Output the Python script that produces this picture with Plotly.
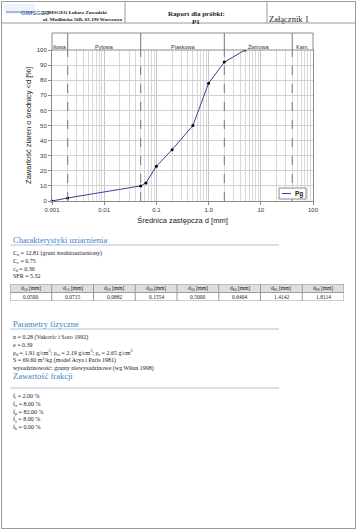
import numpy as np
import plotly.graph_objects as go

W, H = 358, 530

# ---------------- data ----------------
diam_mm = [0.001, 0.002, 0.05, 0.063, 0.1, 0.2, 0.5, 1.0, 2.0, 5.0]
passing_pct = [0, 2, 10, 12, 23, 34, 50, 78, 92, 100]
series_name = "Pg"

class_bounds = [0.001, 0.002, 0.05, 2.0, 40.0, 100.0]
class_names = ["Iłowa", "Pyłowa", "Piaskowa", "Żwirowa", "Kam."]

x_tickvals = [0.001, 0.01, 0.1, 1, 10, 100]
x_ticktext = ["0.001", "0.01", "0.1", "1.0", "10", "100"]
y_tickvals = list(range(0, 101, 10))

char_lines = ["C<sub>u</sub> = 12.81 (grunt średniouziarniony)",
              "C<sub>c</sub> = 0.75",
              "c<sub>d</sub> = 0.36",
              "SFR = 5.32"]
table_headers = ["d<sub>10</sub> [mm]", "d<sub>15</sub> [mm]", "d<sub>20</sub> [mm]", "d<sub>30</sub> [mm]",
                 "d<sub>50</sub> [mm]", "d<sub>60</sub> [mm]", "d<sub>85</sub> [mm]", "d<sub>90</sub> [mm]"]
table_values = ["0.0500", "0.0715", "0.0882", "0.1554", "0.5000", "0.6404", "1.4142", "1.8114"]
phys_lines = ["n = 0.28 (Vukovic i Soro 1992)",
              "e = 0.39",
              "ρ<sub>d</sub> = 1.91 g/cm<sup>3</sup>; ρ<sub>sr</sub> = 2.19 g/cm<sup>3</sup>; ρ<sub>s</sub> = 2.65 g/cm<sup>3</sup>",
              "S = 69.60 m<sup>2</sup>/kg (model Arya i Paris 1981)",
              "wysadzinowość: grunty niewysadzinowe (wg Wiłun 1998)"]
frac_lines = ["f<sub>i</sub> = 2.00 %", "f<sub>π</sub> = 8.00 %", "f<sub>p</sub> = 82.00 %",
              "f<sub>ż</sub> = 8.00 %", "f<sub>k</sub> = 0.00 %"]

# ---------------- helpers (pixel -> paper) ----------------
def fx(px):
    return px / W

def fy(py):
    return 1 - py / H

SERIF = "Liberation Serif"
SANS = "Liberation Sans"
BORDER = "#8c8c8c"
HEAD_BLUE = "#4282c2"
RULE_BLUE = "#a9c3dc"
TEXT = "#222222"

PX_L, PX_R = 52, 313
PY_TOP, PY_BOT = 50, 201
BAND_TOP = 33

fig = go.Figure()
fig.add_trace(go.Scatter(
    x=diam_mm, y=passing_pct, name=series_name, mode="lines+markers",
    line=dict(color="#3d3d9e", width=1),
    marker=dict(color="black", size=3),
    showlegend=False, cliponaxis=False))

minor_vals = [m * 10.0 ** e for e in range(-3, 2) for m in range(2, 10)]

xaxis = dict(
    type="log", range=[-3, 2], domain=[fx(PX_L), fx(PX_R)], automargin=False,
    tickvals=x_tickvals, ticktext=x_ticktext,
    showgrid=True, gridcolor="#c8c8c8", gridwidth=1,
    minor=dict(tickvals=minor_vals, showgrid=True, gridcolor="#d9d9d9", gridwidth=1, ticks=""),
    ticks="outside", ticklen=3, tickcolor=BORDER,
    showline=True, linecolor=BORDER, mirror=True, zeroline=False, fixedrange=True,
    tickfont=dict(family=SANS, size=6, color="#333"),
    title=dict(text="Średnica zastępcza d [mm]", font=dict(family=SANS, size=7.5, color=TEXT), standoff=5),
)
yaxis = dict(
    range=[0, 100], domain=[fy(PY_BOT), fy(PY_TOP)], automargin=False,
    tickvals=y_tickvals, showgrid=True, gridcolor="#d0d0d0", gridwidth=1,
    ticks="outside", ticklen=3, tickcolor=BORDER,
    showline=True, linecolor=BORDER, mirror=True, zeroline=False, fixedrange=True,
    tickfont=dict(family=SANS, size=6, color="#333"),
    title=dict(text="Zawartość ziaren o średnicy &lt;d [%]", font=dict(family=SANS, size=7.5, color=TEXT), standoff=4),
)

shapes = []
ann = []

# page border
shapes.append(dict(type="rect", xref="paper", yref="paper", x0=fx(1.5), x1=fx(355.5), y0=fy(528.5), y1=fy(1.5),
                   line=dict(color="#999999", width=1)))
# header
shapes.append(dict(type="line", xref="paper", yref="paper", x0=fx(1.5), x1=fx(355.5), y0=fy(23), y1=fy(23),
                   line=dict(color="#999999", width=1)))
for xx in (125, 267):
    shapes.append(dict(type="line", xref="paper", yref="paper", x0=fx(xx), x1=fx(xx), y0=fy(1.5), y1=fy(23),
                       line=dict(color="#999999", width=1)))

# logo
shapes.append(dict(type="rect", xref="paper", yref="paper", x0=fx(4), x1=fx(35), y0=fy(14), y1=fy(4),
                   line=dict(width=0), fillcolor="#eef3fb"))
shapes.append(dict(type="line", xref="paper", yref="paper", x0=fx(6), x1=fx(33), y0=fy(12), y1=fy(12),
                   line=dict(color="#5a7fc0", width=1)))
ann.append(dict(text="GIMSGEO", x=fx(19), y=fy(7.5), xref="paper", yref="paper", showarrow=False,
                font=dict(family=SANS, size=6, color="#1f3f8f")))
ann.append(dict(text="<b>GIMSGEO Łukasz Zawadzki</b>", x=fx(41), y=fy(7.5), xref="paper", yref="paper",
                showarrow=False, xanchor="left", font=dict(family=SERIF, size=5, color=TEXT)))
ann.append(dict(text="<b>ul. Modlińska 56B, 03-190 Warszawa</b>", x=fx(41), y=fy(14.5), xref="paper", yref="paper",
                showarrow=False, xanchor="left", font=dict(family=SERIF, size=5, color=TEXT)))
ann.append(dict(text="<b>Raport dla próbki:</b>", x=fx(196), y=fy(7.5), xref="paper", yref="paper",
                showarrow=False, font=dict(family=SERIF, size=7, color=TEXT)))
ann.append(dict(text="<b>P1</b>", x=fx(196), y=fy(15.5), xref="paper", yref="paper",
                showarrow=False, font=dict(family=SERIF, size=7, color=TEXT)))
ann.append(dict(text="Załącznik 1", x=fx(311), y=fy(12), xref="paper", yref="paper",
                showarrow=False, font=dict(family=SERIF, size=8.5, color=TEXT)))

# class band above plot
shapes.append(dict(type="rect", xref="paper", yref="paper", x0=fx(PX_L), x1=fx(PX_R), y0=fy(PY_TOP), y1=fy(BAND_TOP),
                   line=dict(color=BORDER, width=1), fillcolor="white", layer="above"))
for b in class_bounds[1:-1]:
    shapes.append(dict(type="line", xref="x", yref="paper", x0=b, x1=b, y0=fy(PY_TOP), y1=fy(BAND_TOP),
                       line=dict(color="#777777", width=1)))
    shapes.append(dict(type="line", xref="x", yref="y", x0=b, x1=b, y0=0, y1=100,
                       line=dict(color="#777777", width=1, dash="dash")))
for i, name in enumerate(class_names):
    cx = np.sqrt(class_bounds[i] * class_bounds[i + 1])
    ann.append(dict(text=name, x=np.log10(cx), y=fy((PY_TOP + BAND_TOP) / 2), xref="x", yref="paper",
                    showarrow=False, font=dict(family=SANS, size=5.5, color="#333")))

# manual legend
shapes.append(dict(type="rect", xref="paper", yref="paper", x0=fx(279), x1=fx(306), y0=fy(199), y1=fy(188),
                   line=dict(color=BORDER, width=1), fillcolor="white"))
shapes.append(dict(type="line", xref="paper", yref="paper", x0=fx(282), x1=fx(291), y0=fy(193.5), y1=fy(193.5),
                   line=dict(color="#3d3d9e", width=1)))
ann.append(dict(text="<b>" + series_name + "</b>", x=fx(293), y=fy(193.5), xref="paper", yref="paper",
                showarrow=False, xanchor="left", font=dict(family=SANS, size=6.5, color=TEXT)))

# text sections
TX = 11

def heading(text, y):
    ann.append(dict(text=text, x=fx(TX), y=fy(y), xref="paper", yref="paper", showarrow=False, xanchor="left",
                    font=dict(family=SERIF, size=8.5, color=HEAD_BLUE)))
    shapes.append(dict(type="line", xref="paper", yref="paper", x0=fx(10), x1=fx(279), y0=fy(y + 5.5), y1=fy(y + 5.5),
                       line=dict(color=RULE_BLUE, width=1)))

def block(items, ytop, size=6.0):
    ann.append(dict(text="<br>".join(items), x=fx(TX), y=fy(ytop), xref="paper", yref="paper", showarrow=False,
                    xanchor="left", yanchor="top", align="left",
                    font=dict(family=SERIF, size=size, color=TEXT)))

heading("Charakterystyki uziarnienia", 239.5)
block(char_lines, 247.5)
heading("Parametry fizyczne", 323.5)
block(phys_lines, 332)
heading("Zawartość frakcji", 382.5)
block(frac_lines, 391)

# table drawn on its own hidden axis pair (columns 0..n, rows 0..2)
TB_T, TB_B = 284, 301
ncol = len(table_headers)
xaxis2 = dict(domain=[fx(10), fx(344)], range=[0, ncol], visible=False, anchor="y2", fixedrange=True,
              automargin=False)
yaxis2 = dict(domain=[fy(TB_B), fy(TB_T)], range=[2, 0], visible=False, anchor="x2", fixedrange=True,
              automargin=False)
fig.add_trace(go.Scatter(x=[], y=[], xaxis="x2", yaxis="y2", showlegend=False))
shapes.append(dict(type="rect", xref="x2", yref="y2", x0=0, x1=ncol, y0=0, y1=1,
                   fillcolor="#dedede", line=dict(width=0), layer="below"))
for r in (0, 1, 2):
    shapes.append(dict(type="line", xref="x2", yref="y2", x0=0, x1=ncol, y0=r, y1=r,
                       line=dict(color="#9a9a9a", width=1)))
for c in range(ncol + 1):
    shapes.append(dict(type="line", xref="x2", yref="y2", x0=c, x1=c, y0=0, y1=2,
                       line=dict(color="#9a9a9a", width=1)))
for c, (hd, val) in enumerate(zip(table_headers, table_values)):
    ann.append(dict(text=hd, x=c + 0.5, y=0.5, xref="x2", yref="y2", showarrow=False,
                    font=dict(family=SERIF, size=5.5, color=TEXT)))
    ann.append(dict(text=val, x=c + 0.5, y=1.5, xref="x2", yref="y2", showarrow=False,
                    font=dict(family=SERIF, size=5.5, color=TEXT)))

fig.update_layout(
    width=W, height=H, margin=dict(l=0, r=0, t=0, b=0, pad=0, autoexpand=False),
    paper_bgcolor="white", plot_bgcolor="white",
    xaxis=xaxis, yaxis=yaxis, xaxis2=xaxis2, yaxis2=yaxis2,
    shapes=shapes, annotations=ann, showlegend=False,
    font=dict(family=SANS),
)

fig.write_html("out.html", config={"displayModeBar": False},
               post_script="document.body.style.margin='0px';document.documentElement.style.overflow='hidden';document.body.style.overflow='hidden';")
